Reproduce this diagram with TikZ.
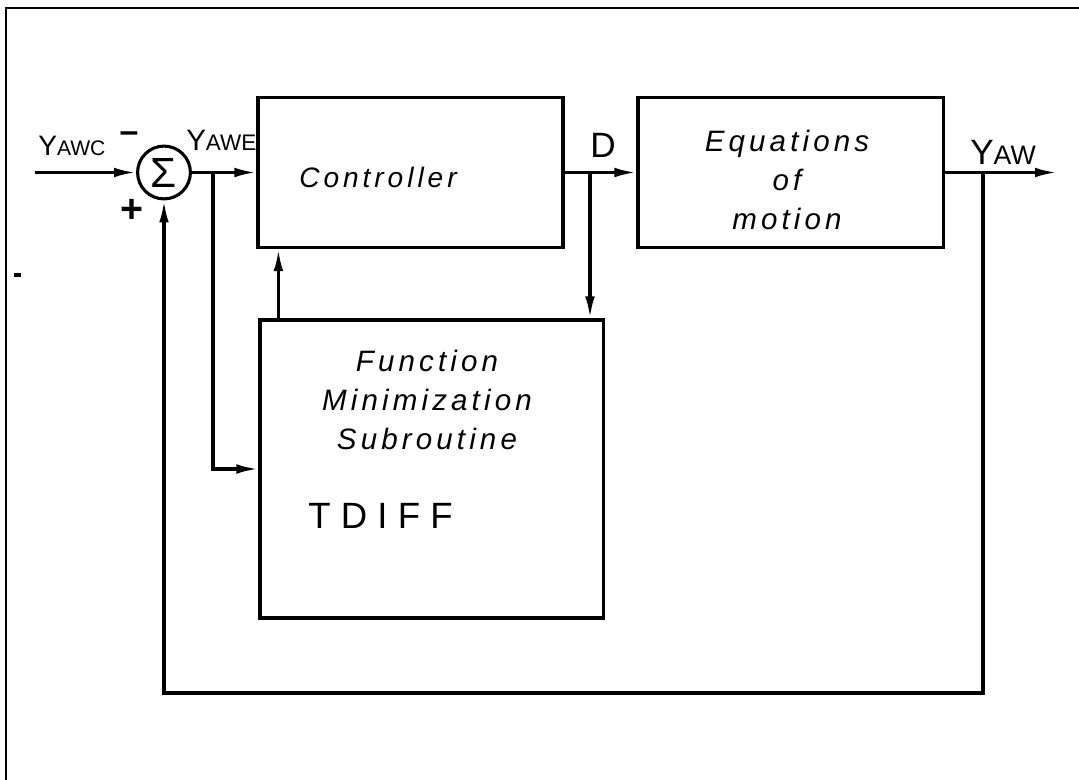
\documentclass[tikz,border=0pt]{standalone}
\usepackage{fontspec}
\usetikzlibrary{arrows.meta,calc}
\newfontfamily\handfont{Liberation Sans}[LetterSpace=14]
\newfontfamily\widefont{Liberation Sans}[LetterSpace=28]
\newfontfamily\plainfont{Liberation Sans}
\newcommand\ysig[3]{{\fontsize{#1}{#1}\selectfont Y}{\fontsize{#2}{#2}\selectfont #3}}

\begin{document}
\begin{tikzpicture}[x=0.025cm,y=-0.025cm,
  blk/.style={draw,line width=2.2pt,inner sep=0pt},
  sig/.style={line width=2.2pt},
  arr/.style={sig,-{Latex[length=5.5mm,width=2.4mm]}},
  txt/.style={font=\handfont\itshape\fontsize{21}{28}\selectfont,align=center},
  sym/.style={font=\plainfont\fontsize{20}{20}\selectfont,inner sep=0pt}]

\useasboundingbox (0,0) rectangle (1079,780);

% frame
\draw[line width=1.8pt] (6,780) -- (6,8) -- (1079,8);
\draw[line width=2.4pt] (14,275) -- (21,275);

% blocks
\node[blk,circle,minimum size=1.32cm] (sum) at (164,172.5) {};
\node[font=\plainfont\fontsize{30}{30}\selectfont] at (sum) {Σ};
\node[blk,minimum width=7.625cm,minimum height=3.75cm] (ctrl) at (410.5,172.5) {};
\node[txt,font=\handfont\itshape\fontsize{20}{28}\selectfont] (ctrltxt) at (378,177) {Controller};
\node[blk,minimum width=7.625cm,minimum height=3.75cm] (eqm) at (790.5,172.5) {};
\node[txt] (eqmtxt) at (787,180) {Equations\\of\\motion};
\node[blk,minimum width=8.575cm,minimum height=7.45cm] (fmin) at (431.5,469) {};
\node[txt] (fmintxt) at (427,400) {Function\\Minimization\\Subroutine};
\node[font=\widefont\fontsize{26}{26}\selectfont,inner sep=0pt,anchor=base west] (tdiff) at (308,528) {TDIFF};

% signals
\coordinate (in) at (35,172.5);
\coordinate (out) at (1057,172.5);
\coordinate (eb) at (213,172.5);
\coordinate (db) at (590,172.5);
\coordinate (yb) at (983,172.5);
\coordinate (fb) at (983,693);
\coordinate (cu) at ([xshift=0.55cm]ctrl.south west);

\draw[arr] (in) -- (sum.west);
\draw[arr] (sum.east) -- (ctrl.west);
\draw[arr] (eb) |- (fmin.west);
\draw[arr] (cu |- fmin.north) -- (cu);
\draw[arr] (ctrl.east) -- (eqm.west);
\draw[arr] (db) -- (db |- fmin.north);
\draw[arr] (eqm.east) -- (out);
\draw[arr] (yb) -- (fb) -| (sum.south);

% labels
\node[sym,anchor=base west] (yawc) at (38,156) {\ysig{20}{15}{AWC}};
\node[sym,font=\plainfont\bfseries\fontsize{24}{24}\selectfont] (minus) at (129,137) {–};
\node[sym,font=\plainfont\bfseries\fontsize{28}{28}\selectfont] (plus) at (132,211) {+};
\node[sym,anchor=base west] (yawe) at (186,151) {\ysig{21}{16}{AWE}};
\node[sym,anchor=base west,font=\plainfont\fontsize{25}{25}\selectfont] (dlbl) at (590,158) {D};
\node[sym,anchor=base west] (yaw) at (970,165) {\ysig{25}{19}{AW}};

\end{tikzpicture}
\end{document}
